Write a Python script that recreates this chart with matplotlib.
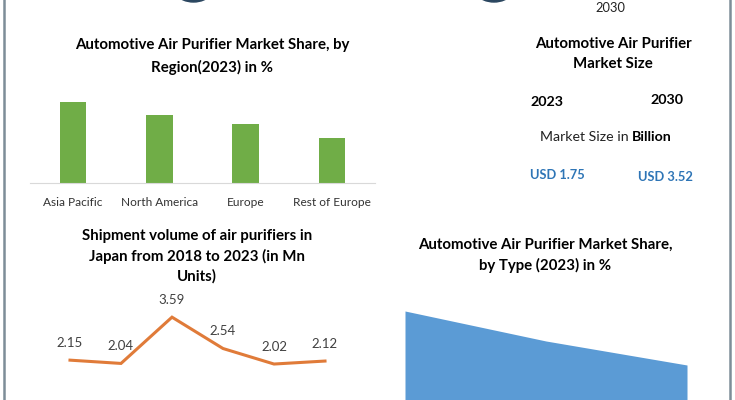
import matplotlib.pyplot as plt
from matplotlib.lines import Line2D
from matplotlib.patches import Circle

plt.rcParams['font.family'] = ['Lato', 'DejaVu Sans']

# region shares (2023, %)
regions = ["Asia Pacific", "North America", "Europe", "Rest of Europe"]
region_share = [36, 30, 26, 20]

# shipment volume in Japan (Mn units)
ship_years = [2018, 2019, 2020, 2021, 2022, 2023]
ship_volume = [2.15, 2.04, 3.59, 2.54, 2.02, 2.12]

# share by type (only the top of the area is visible)
type_share = [48, 38, 30]

size_years = ["2023", "2030"]
size_values = ["USD 1.75", "USD 3.52"]

W, H = 735, 400
fig = plt.figure(figsize=(W / 100, H / 100), dpi=100)
fig.patch.set_facecolor("white")

TS = 10.8  # title size


def box(x0, y0, x1, y1):
    # pixel box (top-left origin) -> figure fraction rect
    return [x0 / W, 1 - y1 / H, (x1 - x0) / W, (y1 - y0) / H]


def txt(x, y, s, **kw):
    kw.setdefault("ha", "center")
    kw.setdefault("va", "center")
    return fig.text(x / W, 1 - y / H, s, **kw)


# frame lines and cut-off icons at the top
for xl in (3.5, 729.5):
    fig.add_artist(Line2D([xl / W, xl / W], [0, 1], color="#7d8d98", lw=1.8))
ico = fig.add_axes([0, 0, 1, 1], zorder=-1)
ico.set_xlim(0, W)
ico.set_ylim(H, 0)
ico.axis("off")
for cx in (193.5, 494):
    ico.add_patch(Circle((cx, -25.5), 27.5, color="#2b4760"))
txt(610, 8, "2030", fontsize=9.3, color="#222222")

# --- bar chart: share by region
txt(212, 45, "Automotive Air Purifier Market Share, by", fontsize=TS, fontweight="bold")
txt(212, 67, "Region(2023) in %", fontsize=TS, fontweight="bold")
ax1 = fig.add_axes(box(30, 90, 375, 183))
ax1.bar(range(len(regions)), region_share, width=0.31, color="#70ad47")
ax1.set_xlim(-0.5, 3.5)
ax1.set_ylim(0, 41.3)
ax1.set_xticks(range(len(regions)), regions, fontsize=8.6, color="#333333")
ax1.tick_params(axis="x", length=0, pad=10)
ax1.set_yticks([])
for s in ("top", "left", "right"):
    ax1.spines[s].set_visible(False)
ax1.spines["bottom"].set_color("#d9d9d9")

# --- market size panel
txt(613, 44, "Automotive Air Purifier", fontsize=TS, fontweight="bold")
txt(613, 64, "Market Size", fontsize=TS, fontweight="bold")
txt(547, 102, size_years[0], fontsize=10.3, fontweight="bold")
txt(667, 100, size_years[1], fontsize=10.3, fontweight="bold")
txt(632, 137, "Market Size in ", fontsize=10.2, ha="right", color="#222222")
txt(632, 137, "Billion", fontsize=10.2, ha="left", fontweight="bold")
txt(557, 175, size_values[0], fontsize=9.3, fontweight="bold", color="#2e75b6")
txt(665, 177, size_values[1], fontsize=9.3, fontweight="bold", color="#2e75b6")

# --- line chart: shipment volume
txt(197, 236, "Shipment volume of air purifiers in", fontsize=TS, fontweight="bold")
txt(197, 256, "Japan from 2018 to 2023 (in Mn", fontsize=TS, fontweight="bold")
txt(197, 276, "Units)", fontsize=TS, fontweight="bold")
ax2 = fig.add_axes(box(44.5, 290, 350.5, 390))
xs = range(len(ship_years))
ax2.plot(xs, ship_volume, color="#e07b39", lw=2.2, solid_joinstyle="miter")
for x, v in zip(xs, ship_volume):
    ax2.annotate(f"{v:.2f}", (x, v), xytext=(0, 8), textcoords="offset points",
                 ha="center", va="bottom", fontsize=9.5, color="#404040")
ax2.set_xlim(-0.5, 5.5)
ax2.set_ylim(1.15, 4.5)
ax2.axis("off")

# --- area chart: share by type
txt(545, 245, "Automotive Air Purifier Market Share,", fontsize=TS, fontweight="bold")
txt(545, 265, "by Type (2023) in %", fontsize=TS, fontweight="bold")
ax3 = fig.add_axes(box(405, 290, 687, 455))
ax3.fill_between(range(len(type_share)), type_share, 0, color="#5b9bd5", lw=0)
ax3.set_xlim(0, 2)
ax3.set_ylim(0, 55)
ax3.axis("off")

fig.savefig("out.png", dpi=100)
